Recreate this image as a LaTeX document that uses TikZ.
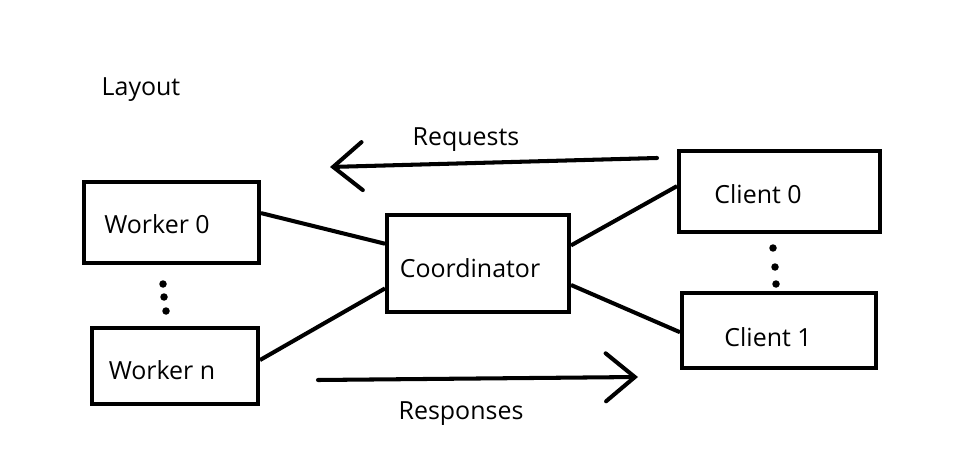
\documentclass[tikz,border=0pt]{standalone}
\usepackage{fontspec}
\setmainfont{Open Sans}
\usetikzlibrary{arrows.meta}

\tikzset{
  box/.style={draw, line width=2.3pt, rectangle, inner sep=0pt},
  lbl/.style={font=\fontsize{14.2}{16}\selectfont, inner sep=0pt, yshift=-0.07cm},
  wire/.style={line width=2.3pt},
  flow/.style={line width=2.3pt, line cap=round, -{Straight Barb[length=0.58cm, width=0.96cm, line cap=round]}},
  dot/.style={fill, circle, inner sep=0pt, minimum size=0.15cm}
}

\begin{document}
\begin{tikzpicture}[x=0.02cm, y=-0.02cm]
        \useasboundingbox (0,0) rectangle (966,449);
        % boxes
        \node[box, minimum width=3.5cm, minimum height=1.62cm] (w0) at (171.5,222.5) {};
        \node[box, minimum width=3.32cm, minimum height=1.52cm] (wn) at (175,366) {};
        \node[box, minimum width=3.64cm, minimum height=1.94cm] (coord) at (478,263.5) {};
        \node[box, minimum width=4.02cm, minimum height=1.62cm] (c0) at (779.5,191.5) {};
        \node[box, minimum width=3.88cm, minimum height=1.5cm] (c1) at (779,330.5) {};
        % texts
        \node[lbl] (w0t) at (157,221) {Worker 0};
        \node[lbl] (wnt) at (162,367) {Worker n};
        \node[lbl] (coordt) at (470,265) {Coordinator};
        \node[lbl] (c0t) at (758,191) {Client 0};
        \node[lbl] (c1t) at (768,334) {Client 1};
        \node[lbl] (layout) at (141,86) {Layout};
        \node[lbl] (req) at (466,136) {Requests};
        \node[lbl] (resp) at (461,410) {Responses};
        % links
        \draw[wire] (w0.6) -- (coord.168);
        \draw[wire] (wn.4) -- (coord.195);
        \draw[wire] (coord.11) -- (c0.177);
        \draw[wire] (coord.-13) -- (c1.181);
        % flows
        \coordinate (reqA) at (657,158);
        \coordinate (reqB) at (330,167);
        \coordinate (respA) at (318,380);
        \coordinate (respB) at (638,377);
        \draw[flow] (reqA) -- (reqB);
        \draw[flow] (respA) -- (respB);
        % dots
        \foreach \y/\x in {284/163, 297/164, 311/166}
            \node[dot] at (\x,\y) {};
        \foreach \y/\x in {248/773, 267/775, 284/776}
            \node[dot] at (\x,\y) {};
    \end{tikzpicture}
\end{document}
